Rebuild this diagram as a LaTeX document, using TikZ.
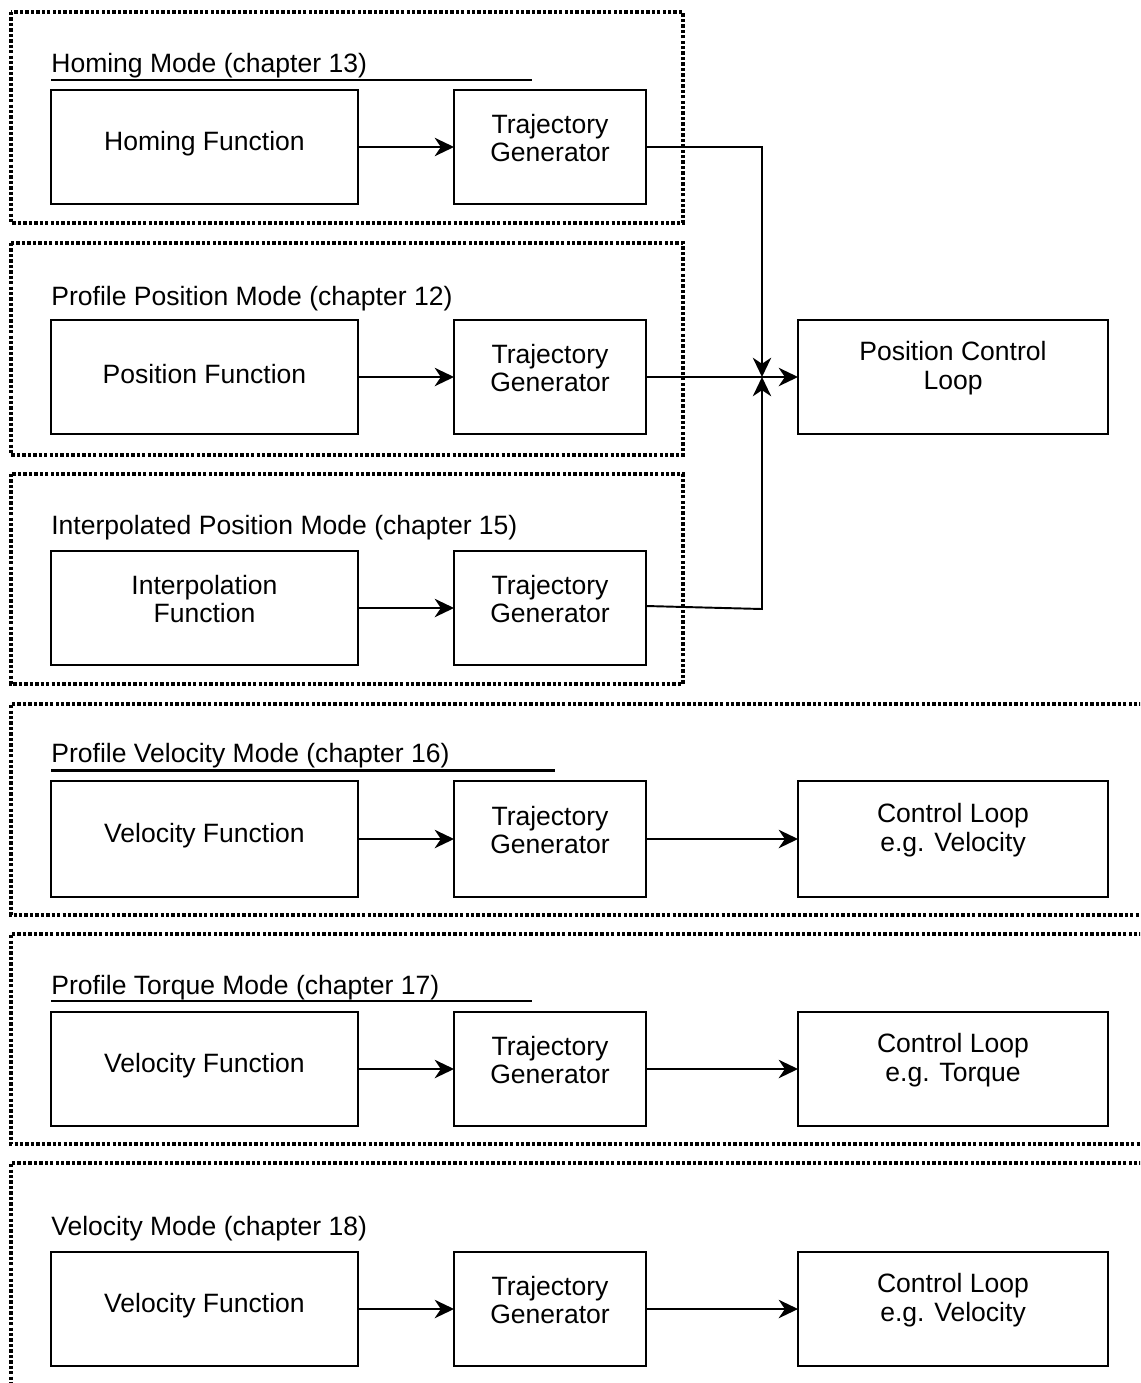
\documentclass[tikz,border=0pt]{standalone}
\usepackage{fontspec}
\setmainfont{Liberation Sans}
\usetikzlibrary{arrows.meta}
\begin{document}
\begin{tikzpicture}[x=0.02cm,y=-0.02cm,
  every node/.style={font=\fontsize{15.1}{16.4}\selectfont},
  frame/.style={line width=1.9pt, dash pattern=on 1.9pt off 1.2pt},
  blk/.style={draw, line width=1.1pt, inner sep=0pt, outer sep=0pt},
  lbox/.style={blk, minimum width=6.14cm, minimum height=2.28cm},
  mbox/.style={blk, minimum width=3.84cm, minimum height=2.28cm},
  rbox/.style={blk, minimum width=6.2cm, minimum height=2.28cm},
  one/.style={align=center, inner sep=0pt},
  two/.style={align=center, inner sep=0pt},
  title/.style={anchor=base west, inner sep=0pt},
  conn/.style={line width=1.1pt, -{Stealth[length=11pt, width=10.5pt, inset=3.5pt]}},
  line/.style={line width=1pt}]
\clip (0,0) rectangle (1140,1383);
\fill[white] (0,0) rectangle (1140,1383);

% frames
\draw[frame] (11,12) rectangle (683,223);
\draw[frame] (11,243) rectangle (683,455);
\draw[frame] (11,474) rectangle (683,684);
\draw[frame] (1170,704) -- (11,704) -- (11,915) -- (1170,915);
\draw[frame] (1170,934) -- (11,934) -- (11,1144) -- (1170,1144);
\draw[frame] (1170,1163) -- (11,1163) -- (11,1385) -- (1170,1385);

% titles
\node[title] (t1) at (51,72) {Homing Mode (chapter 13)};
\draw[line width=1.7pt] (51,80) -- (532,80);
\node[title] (t2) at (51,305) {Profile Position Mode (chapter 12)};
\node[title] (t3) at (51,534) {Interpolated Position Mode (chapter 15)};
\node[title] (t4) at (51,762) {Profile Velocity Mode (chapter 16)};
\draw[line width=1.7pt] (51,770) -- (555,770);
\node[title] (t5) at (51,994) {Profile Torque Mode (chapter 17)};
\draw[line width=0.6pt] (51,1001) -- (532,1001);
\node[title] (t6) at (51,1235) {Velocity Mode (chapter 18)};

% boxes
\node[lbox] (h1) at (204.5,147) {};
\node[mbox] (g1) at (550,147) {};
\node[lbox] (h2) at (204.5,377) {};
\node[mbox] (g2) at (550,377) {};
\node[rbox] (pcl) at (953,377) {};
\node[lbox] (h3) at (204.5,608) {};
\node[mbox] (g3) at (550,608) {};
\node[lbox, minimum height=2.32cm] (h4) at (204.5,839) {};
\node[mbox, minimum height=2.32cm] (g4) at (550,839) {};
\node[rbox, minimum height=2.32cm] (c4) at (953,839) {};
\node[lbox] (h5) at (204.5,1069) {};
\node[mbox] (g5) at (550,1069) {};
\node[rbox] (c5) at (953,1069) {};
\node[lbox] (h6) at (204.5,1309) {};
\node[mbox] (g6) at (550,1309) {};
\node[rbox] (c6) at (953,1309) {};

% box texts
\node[one] (h1t) at ([yshift=0.06cm]h1.center) {Homing Function};
\node[two] (g1t) at ([yshift=0.18cm]g1.center) {Trajectory\\Generator};
\node[one] (h2t) at ([yshift=0.06cm]h2.center) {Position Function};
\node[two] (g2t) at ([yshift=0.18cm]g2.center) {Trajectory\\Generator};
\node[two] (pclt) at ([yshift=0.18cm]pcl.center) {Position Control\\Loop};
\node[two] (h3t) at ([yshift=0.18cm]h3.center) {Interpolation\\Function};
\node[two] (g3t) at ([yshift=0.18cm]g3.center) {Trajectory\\Generator};
\node[one] (h4t) at ([yshift=0.06cm]h4.center) {Velocity Function};
\node[two] (g4t) at ([yshift=0.18cm]g4.center) {Trajectory\\Generator};
\node[two] (c4t) at ([yshift=0.18cm]c4.center) {Control Loop\\e.g. Velocity};
\node[one] (h5t) at ([yshift=0.06cm]h5.center) {Velocity Function};
\node[two] (g5t) at ([yshift=0.18cm]g5.center) {Trajectory\\Generator};
\node[two] (c5t) at ([yshift=0.18cm]c5.center) {Control Loop\\e.g. Torque};
\node[one] (h6t) at ([yshift=0.06cm]h6.center) {Velocity Function};
\node[two] (g6t) at ([yshift=0.18cm]g6.center) {Trajectory\\Generator};
\node[two] (c6t) at ([yshift=0.18cm]c6.center) {Control Loop\\e.g. Velocity};

% connectors
\coordinate (j) at (762,377);
\coordinate (k1) at (762,147);
\coordinate (k3) at (762,609);
\draw[conn] (h1) -- (g1);
\draw[conn] (h2) -- (g2);
\draw[conn] (h3) -- (g3);
\draw[conn] (g1.east) -- (k1) -- (j);
\draw[conn] (g3.east |- 0,606) -- (k3) -- (j);
\draw[conn] (g2.east) -- (pcl.west);
\draw[conn] (h4) -- (g4);
\draw[conn] (g4) -- (c4);
\draw[conn] (h5) -- (g5);
\draw[conn] (g5) -- (c5);
\draw[conn] (h6) -- (g6);
\draw[conn] (g6) -- (c6);
\end{tikzpicture}
\end{document}
